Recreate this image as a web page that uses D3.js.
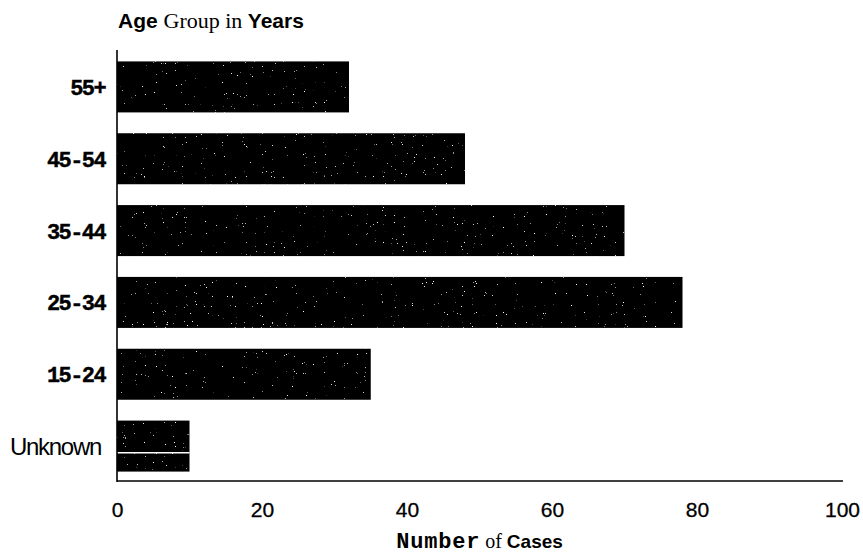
<!DOCTYPE html>
<html>
<head>
<meta charset="utf-8">
<script src="https://cdn.jsdelivr.net/npm/d3@7"></script>
<style>
  html, body { margin: 0; padding: 0; background: #fff; }
  svg { display: block; }
</style>
</head>
<body>
<svg id="chart" width="863" height="556"></svg>
<script>
// ---- data ----
const categories = ["55+", "45-54", "35-44", "25-34", "15-24", "Unknown"];
const cases = [32, 48, 70, 78, 35, 10];
const xTicks = [0, 20, 40, 60, 80, 100];

const svg = d3.select("#chart");

const x = d3.scaleLinear().domain([0, 100]).range([117, 842]);
const y = d3.scaleBand().domain(categories).range([51, 482])
  .paddingInner(0.29).paddingOuter(0.145);

// speckle texture filter
const defs = svg.append("defs");
const f = defs.append("filter").attr("id", "speck")
  .attr("x", 0).attr("y", 0).attr("width", 1).attr("height", 1);
f.append("feTurbulence").attr("type", "fractalNoise")
  .attr("baseFrequency", 0.9).attr("numOctaves", 2).attr("seed", 7).attr("result", "noise");
f.append("feColorMatrix").attr("in", "noise").attr("type", "matrix")
  .attr("values", "0 0 0 0 1  0 0 0 0 1  0 0 0 0 1  14 0 0 0 -10.6").attr("result", "dots");
f.append("feComposite").attr("in", "dots").attr("in2", "SourceGraphic")
  .attr("operator", "in").attr("result", "dotsIn");
const m = f.append("feMerge");
m.append("feMergeNode").attr("in", "SourceGraphic");
m.append("feMergeNode").attr("in", "dotsIn");

// bars
svg.append("g").selectAll("rect").data(categories).join("rect")
  .attr("x", x(0))
  .attr("y", d => y(d))
  .attr("width", (d, i) => x(cases[i]) - x(0))
  .attr("height", y.bandwidth())
  .attr("fill", "#000")
  .attr("filter", "url(#speck)");

// scan artifact: white line through the "Unknown" bar
svg.append("line")
  .attr("x1", x(0)).attr("x2", x(cases[5]))
  .attr("y1", y("Unknown") + y.bandwidth() * 0.63)
  .attr("y2", y("Unknown") + y.bandwidth() * 0.63)
  .attr("stroke", "#fff").attr("stroke-width", 1.5);

// x axis
const xAxis = svg.append("g").attr("transform", `translate(0,481)`)
  .call(d3.axisBottom(x).tickValues(xTicks).tickSize(0).tickPadding(21).tickFormat(d3.format("d")));
xAxis.select(".domain").attr("stroke", "#000").attr("stroke-width", 1.6).attr("d", `M${x(0)},0H843`);
xAxis.selectAll("text")
  .attr("font-family", "'Liberation Sans', Arial, sans-serif")
  .attr("font-size", 21).attr("fill", "#000").attr("dy", "0.71em")
  .attr("stroke", "#000").attr("stroke-width", 0.3);

// y axis
const yAxis = svg.append("g").attr("transform", `translate(117,0)`)
  .call(d3.axisLeft(y).tickSize(0).tickPadding(12));
yAxis.select(".domain").attr("stroke", "#000").attr("stroke-width", 1.6).attr("d", "M0,50V482");
yAxis.selectAll("text")
  .attr("fill", "#000")
  .attr("dy", "0.36em")
  .attr("font-family", d => d === "Unknown" ? "'Liberation Sans', Arial, sans-serif" : "'Liberation Mono', 'Courier New', monospace")
  .attr("font-weight", d => d === "Unknown" ? "normal" : "bold")
  .attr("font-size", d => d === "Unknown" ? 24 : 22)
  .attr("letter-spacing", d => d === "Unknown" ? -1.3 : -1.6)
  .attr("stroke", d => d === "Unknown" ? "none" : "#000")
  .attr("stroke-width", 0.4)
  .attr("dx", d => d === "Unknown" ? -4 : 0);

// y title
const t = svg.append("text").attr("x", 118).attr("y", 28).attr("fill", "#000");
t.append("tspan").attr("font-family", "'Liberation Sans', Arial, sans-serif").attr("font-weight", "bold").attr("font-size", 21).text("Age ");
t.append("tspan").attr("font-family", "'Liberation Serif', 'Times New Roman', serif").attr("font-size", 22).text("Group in ");
t.append("tspan").attr("font-family", "'Liberation Sans', Arial, sans-serif").attr("font-weight", "bold").attr("font-size", 21).text("Years");

// x title
const xt = svg.append("text").attr("x", (x(0) + x(100)) / 2).attr("y", 548)
  .attr("text-anchor", "middle").attr("fill", "#000");
xt.append("tspan").attr("font-family", "'Liberation Mono', 'Courier New', monospace").attr("font-weight", "bold")
  .attr("font-size", 22).attr("letter-spacing", 0.8).text("Number");
xt.append("tspan").attr("font-family", "'Liberation Serif', 'Times New Roman', serif").attr("font-size", 20).text(" of ");
xt.append("tspan").attr("font-family", "'Liberation Sans', Arial, sans-serif").attr("font-weight", "bold").attr("font-size", 19).text("Cases");
</script>
</body>
</html>
